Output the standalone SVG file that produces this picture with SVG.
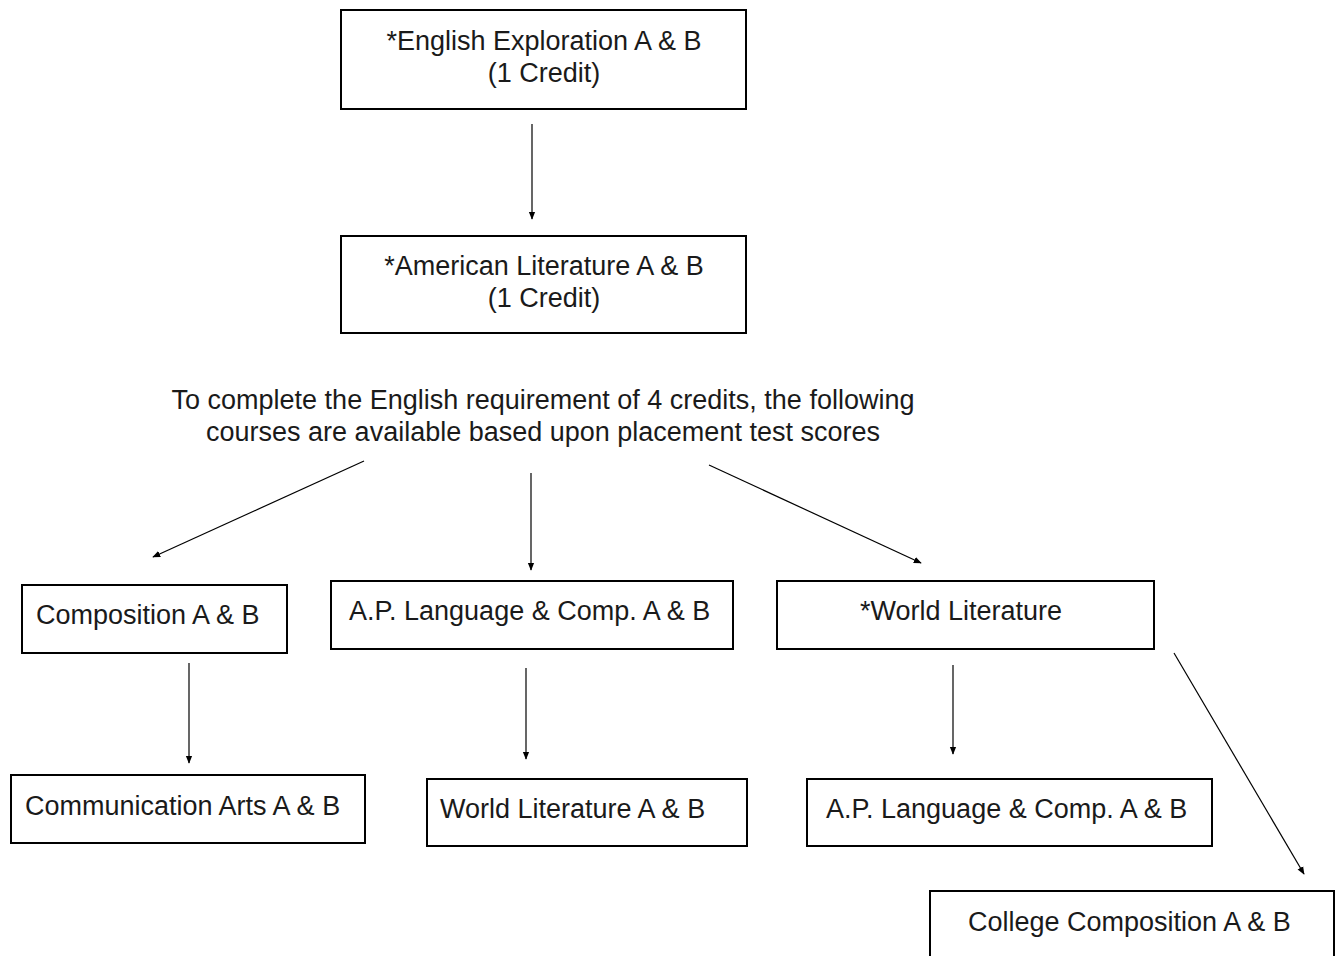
<svg xmlns="http://www.w3.org/2000/svg" width="1338" height="956" viewBox="0 0 1338 956">
<defs>
<marker id="ah" viewBox="0 0 10 10" refX="9" refY="5" markerWidth="8" markerHeight="8" markerUnits="userSpaceOnUse" orient="auto">
<path d="M0,1 L10,5 L0,9 z" fill="#000"/>
</marker>
</defs>
<style>
.box{fill:#fff;stroke:#000;stroke-width:2}
.t{font-family:"Liberation Sans",Arial,sans-serif;font-size:27px;fill:#1a1a1a;dominant-baseline:central}
.c{text-anchor:middle}
.con line{stroke:#000;stroke-width:1.2;marker-end:url(#ah)}
</style>
<rect width="1338" height="956" fill="#fff"/>
<g id="n1"><rect class="box" x="341" y="10" width="405" height="99"/><text class="t c" x="544" y="41">*English Exploration A &amp; B</text><text class="t c" x="544" y="73">(1 Credit)</text></g>
<g id="n2"><rect class="box" x="341" y="236" width="405" height="97"/><text class="t c" x="544" y="266">*American Literature A &amp; B</text><text class="t c" x="544" y="298">(1 Credit)</text></g>
<g id="note"><text class="t c" x="543" y="400">To complete the English requirement of 4 credits, the following</text><text class="t c" x="543" y="432">courses are available based upon placement test scores</text></g>
<g id="n3"><rect class="box" x="22" y="585" width="265" height="68"/><text class="t" x="36" y="615">Composition A &amp; B</text></g>
<g id="n4"><rect class="box" x="331" y="581" width="402" height="68"/><text class="t" x="349" y="611">A.P. Language &amp; Comp. A &amp; B</text></g>
<g id="n5"><rect class="box" x="777" y="581" width="377" height="68"/><text class="t" x="860" y="611">*World Literature</text></g>
<g id="n6"><rect class="box" x="11" y="775" width="354" height="68"/><text class="t" x="25" y="806">Communication Arts A &amp; B</text></g>
<g id="n7"><rect class="box" x="427" y="779" width="320" height="67"/><text class="t" x="440" y="809">World Literature A &amp; B</text></g>
<g id="n8"><rect class="box" x="807" y="779" width="405" height="67"/><text class="t" x="826" y="809">A.P. Language &amp; Comp. A &amp; B</text></g>
<g id="n9"><rect class="box" x="930" y="891" width="404" height="80"/><text class="t" x="968" y="922">College Composition A &amp; B</text></g>
<g id="connectors" class="con">
<line x1="532" y1="124" x2="532" y2="219"/>
<line x1="364" y1="461" x2="153" y2="557"/>
<line x1="531" y1="473" x2="531" y2="570"/>
<line x1="709" y1="465" x2="921" y2="563"/>
<line x1="189" y1="663" x2="189" y2="763"/>
<line x1="526" y1="668" x2="526" y2="759"/>
<line x1="953" y1="665" x2="953" y2="754"/>
<line x1="1174" y1="653" x2="1304" y2="874"/>
</g>
</svg>
